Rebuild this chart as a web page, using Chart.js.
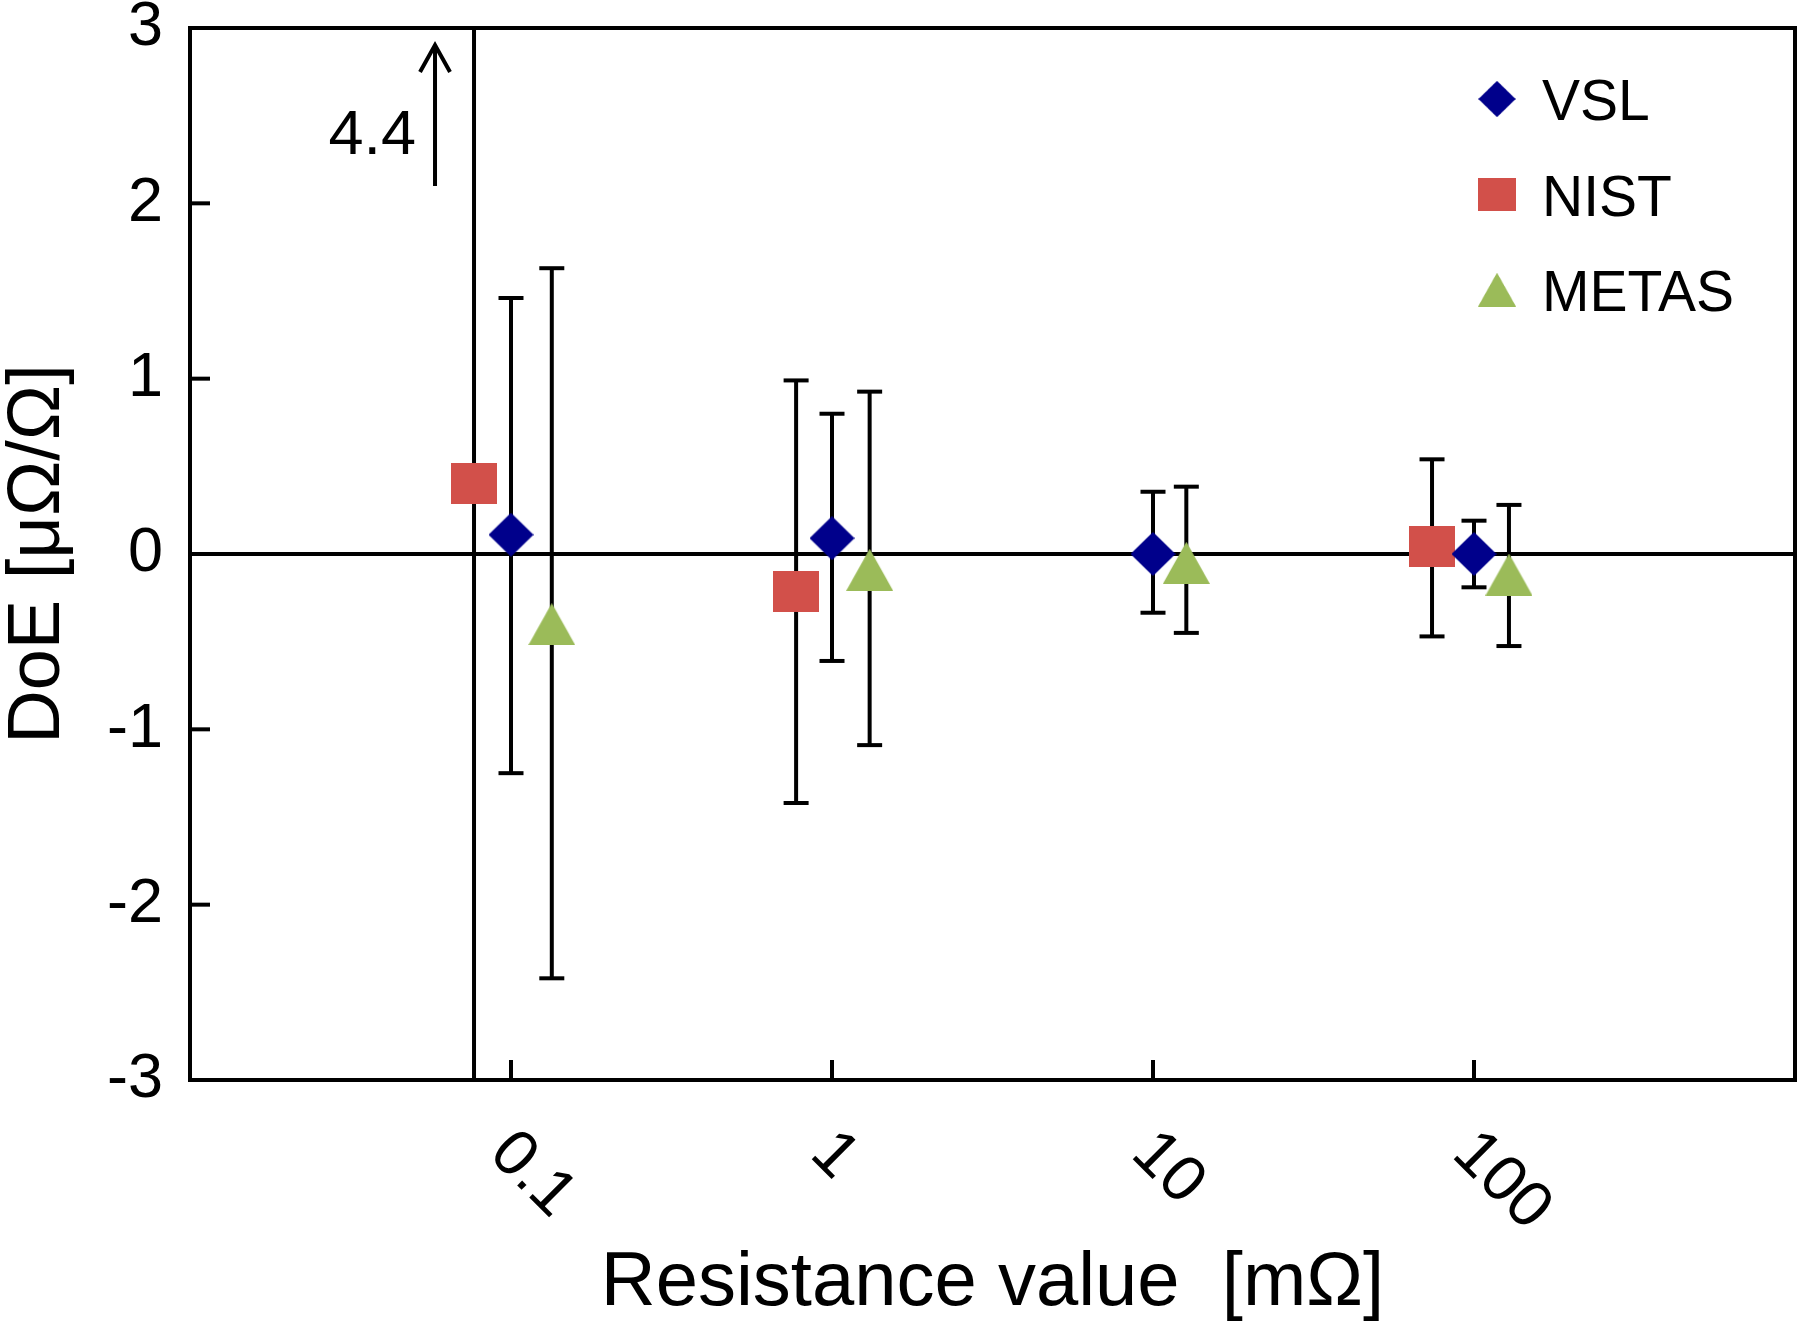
<!DOCTYPE html>
<html>
<head>
<meta charset="utf-8">
<script src="https://cdn.jsdelivr.net/npm/chart.js@4/dist/chart.umd.min.js"></script>
<style>
  html, body { margin: 0; padding: 0; background: #fff; }
  canvas { display: block; }
</style>
</head>
<body>
<canvas id="c" width="1800" height="1326"></canvas>
<script>
// ---- data ----
const xTicks = [0.1, 1, 10, 100];

const vslX  = [0.1, 1, 10, 100];
const vslY  = [0.11, 0.09, 0.0, 0.0];
const vslLo = [-1.25, -0.61, -0.335, -0.19];
const vslHi = [1.46, 0.80, 0.355, 0.19];

const nistX  = [0.0767, 0.773, 74];
const nistY  = [0.40, -0.215, 0.04];
const nistLo = [-3.6, -1.42, -0.47];
const nistHi = [4.4, 0.99, 0.54];

const metasX  = [0.134, 1.31, 12.7, 128.5];
const metasY  = [-0.40, -0.09, -0.05, -0.117];
const metasLo = [-2.42, -1.09, -0.45, -0.525];
const metasHi = [1.63, 0.926, 0.384, 0.28];

const seriesNames = ['VSL', 'NIST', 'METAS'];

// ---- marker images ----
function makeMarker(kind, w, h, color) {
  const c = document.createElement('canvas');
  c.width = w; c.height = h;
  const g = c.getContext('2d');
  g.fillStyle = color;
  g.beginPath();
  if (kind === 'diamond') {
    g.moveTo(w / 2, 0); g.lineTo(w, h / 2); g.lineTo(w / 2, h); g.lineTo(0, h / 2);
  } else if (kind === 'square') {
    g.rect(0, 0, w, h);
  } else {
    g.moveTo(w / 2, 0); g.lineTo(w, h); g.lineTo(0, h);
  }
  g.closePath();
  g.fill();
  return c;
}
const mkVSL = makeMarker('diamond', 45, 44, '#00008B');
const mkNIST = makeMarker('square', 46, 41, '#D2504A');
const mkMETAS = makeMarker('triangle', 47, 42, '#9BBB59');

function pts(xs, ys, lo, hi) {
  return xs.map((x, i) => ({ x: x, y: ys[i], lo: lo[i], hi: hi[i] }));
}

const FONT = "'Liberation Sans', Arial, Helvetica, sans-serif";
Chart.defaults.font.family = FONT;
Chart.defaults.color = '#000';

const LW = 4;

function line(ctx, x1, y1, x2, y2) {
  ctx.beginPath(); ctx.moveTo(x1, y1); ctx.lineTo(x2, y2); ctx.stroke();
}

const decor = {
  id: 'decor',
  beforeDatasetsDraw(chart) {
    const { ctx, chartArea: a, scales: { x, y } } = chart;
    ctx.save();
    ctx.strokeStyle = '#000';
    ctx.lineWidth = LW;
    ctx.lineCap = 'butt';
    // zero line
    const y0 = y.getPixelForValue(0);
    line(ctx, a.left, y0, a.right, y0);
    // inward tick marks
    y.ticks.forEach(t => {
      if (t.value === 0 || t.value === y.min || t.value === y.max) return;
      const py = y.getPixelForValue(t.value);
      line(ctx, a.left, py, a.left + 20, py);
    });
    x.ticks.forEach(t => {
      const px = x.getPixelForValue(t.value);
      line(ctx, px, a.bottom, px, a.bottom - 20);
    });
    // error bars
    ctx.beginPath();
    ctx.rect(a.left, a.top, a.width, a.height);
    ctx.clip();
    chart.data.datasets.forEach((ds, di) => {
      const meta = chart.getDatasetMeta(di);
      meta.data.forEach((pt, i) => {
        const r = ds.data[i];
        const yl = y.getPixelForValue(r.lo);
        const yh = y.getPixelForValue(r.hi);
        line(ctx, pt.x, yl, pt.x, yh);
        if (r.lo >= y.min) line(ctx, pt.x - 12.5, yl, pt.x + 12.5, yl);
        if (r.hi <= y.max) line(ctx, pt.x - 12.5, yh, pt.x + 12.5, yh);
      });
    });
    ctx.restore();
  },
  afterDraw(chart) {
    const { ctx, chartArea: a, scales: { x } } = chart;
    ctx.save();
    // frame
    ctx.strokeStyle = '#000';
    ctx.lineWidth = LW;
    ctx.strokeRect(a.left, a.top, a.width, a.height);

    // rotated x tick labels
    ctx.fillStyle = '#000';
    ctx.font = '65px ' + FONT;
    ctx.textAlign = 'left';
    ctx.textBaseline = 'middle';
    x.ticks.forEach(t => {
      const px = x.getPixelForValue(t.value);
      ctx.save();
      ctx.translate(px - 11, a.bottom + 63);
      ctx.rotate(Math.PI / 4);
      ctx.fillText(String(t.value), 0, 0);
      ctx.restore();
    });

    // legend
    const markers = [mkVSL, mkNIST, mkMETAS];
    const s = 38 / 46;
    ctx.font = '57px ' + FONT;
    ctx.textBaseline = 'alphabetic';
    chart.data.datasets.forEach((ds, i) => {
      const cx = a.right - 298;
      const cy = a.top + 71 + i * 95.5;
      const m = markers[i];
      ctx.drawImage(m, cx - m.width * s / 2, cy - m.height * s / 2, m.width * s, m.height * s);
      ctx.fillText(ds.label, cx + 45, cy + 21);
    });

    // off-scale annotation for NIST at 0.1
    const nMeta = chart.getDatasetMeta(1);
    const ax = nMeta.data[0].x - 39;
    const tipY = a.top + 17, baseY = a.top + 158;
    ctx.lineWidth = LW;
    line(ctx, ax, baseY, ax, tipY);
    ctx.beginPath();
    ctx.moveTo(ax - 15, tipY + 27);
    ctx.lineTo(ax, tipY);
    ctx.lineTo(ax + 15, tipY + 27);
    ctx.stroke();
    ctx.font = '63px ' + FONT;
    ctx.textAlign = 'right';
    ctx.fillText(nistHi[0].toFixed(1), ax - 19, a.top + 126);
    ctx.restore();
  }
};

new Chart(document.getElementById('c'), {
  type: 'scatter',
  data: {
    datasets: [
      { label: seriesNames[0], data: pts(vslX, vslY, vslLo, vslHi), pointStyle: mkVSL, pointRadius: 22, backgroundColor: '#00008B', borderColor: '#00008B' },
      { label: seriesNames[1], data: pts(nistX, nistY, nistLo, nistHi), pointStyle: mkNIST, pointRadius: 22, backgroundColor: '#D2504A', borderColor: '#D2504A' },
      { label: seriesNames[2], data: pts(metasX, metasY, metasLo, metasHi), pointStyle: mkMETAS, pointRadius: 22, backgroundColor: '#9BBB59', borderColor: '#9BBB59' }
    ]
  },
  options: {
    responsive: false,
    animation: false,
    events: [],
    layout: { autoPadding: false, padding: { top: 28, right: 5, left: 0, bottom: 0 } },
    plugins: { legend: { display: false }, tooltip: { enabled: false } },
    scales: {
      x: {
        type: 'logarithmic',
        min: 0.01,
        max: 1000,
        grid: { display: false, drawTicks: false },
        border: { display: false },
        ticks: { display: false },
        afterBuildTicks: s => { s.ticks = xTicks.map(v => ({ value: v })); },
        afterFit: s => { s.height = 246; s.paddingLeft = 0; s.paddingRight = 0; s.paddingTop = 0; s.paddingBottom = 0; },
        title: {
          display: true,
          text: 'Resistance value  [mΩ]',
          font: { size: 76, lineHeight: 1 },
          padding: { top: 0, bottom: 4 },
          color: '#000'
        }
      },
      y: {
        min: -3,
        max: 3,
        grid: { display: false, drawTicks: false },
        border: { display: false },
        ticks: { stepSize: 1, font: { size: 63, lineHeight: 1 }, padding: 27, color: '#000' },
        afterFit: s => { s.width = 190; s.paddingLeft = 0; s.paddingRight = 0; s.paddingTop = 0; s.paddingBottom = 0; },
        title: {
          display: true,
          text: 'DoE [μΩ/Ω]',
          font: { size: 74, lineHeight: 1.05 },
          padding: { top: 0, bottom: 0 },
          color: '#000'
        }
      }
    }
  },
  plugins: [decor]
});
</script>
</body>
</html>
